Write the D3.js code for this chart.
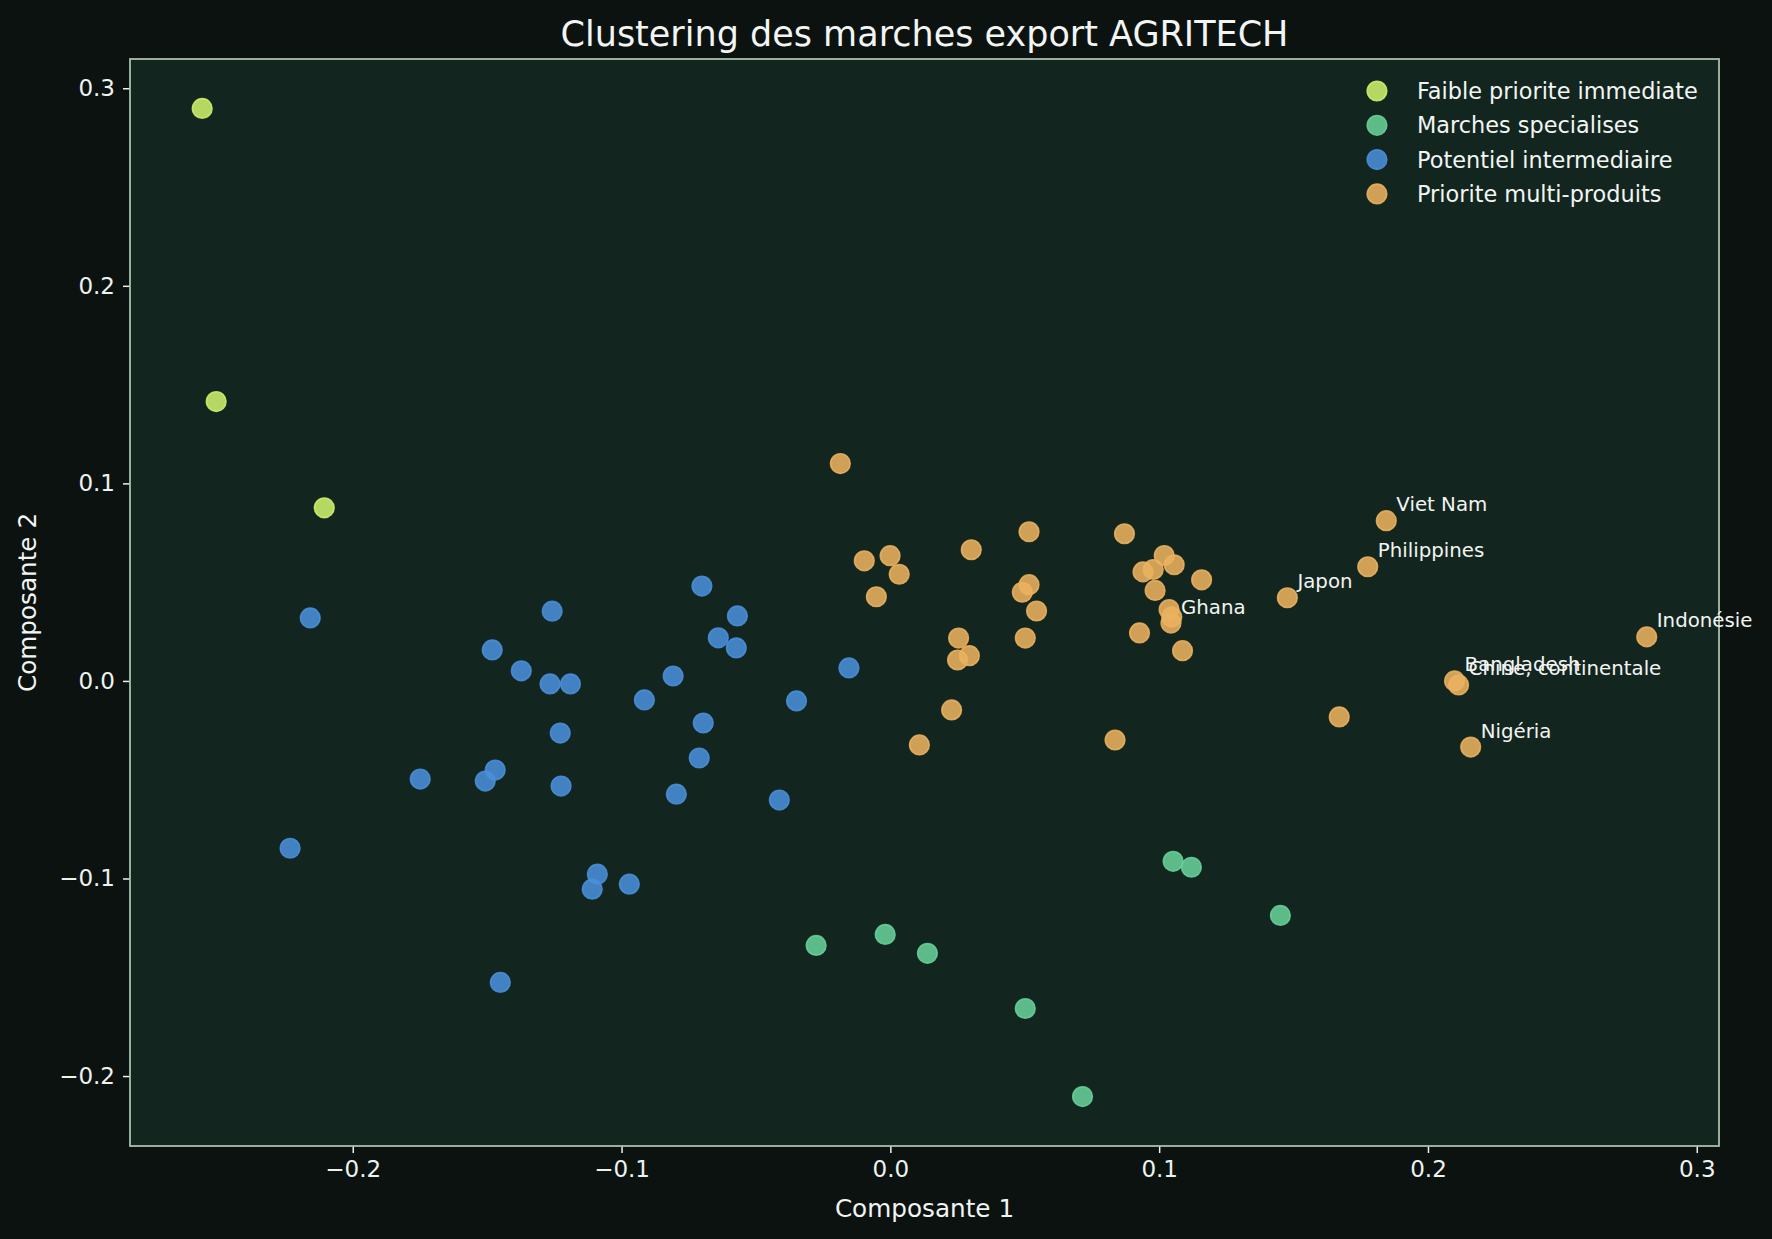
<!DOCTYPE html>
<html>
<head>
<meta charset="utf-8">
<script src="https://cdn.jsdelivr.net/npm/d3@7"></script>
<style>
  html, body { margin: 0; padding: 0; background: #0b120f; }
  svg { display: block; }
  text { font-family: "DejaVu Sans", sans-serif; }
</style>
</head>
<body>
<svg id="chart" width="1772" height="1239"></svg>
<script>
// ---- Data ----
const clusterNames = ["Faible priorite immediate", "Marches specialises", "Potentiel intermediaire", "Priorite multi-produits"];
const clusterColors = ["#cdf06c", "#68d098", "#4a90d9", "#eab260"];

const faibleX = [-0.2560, -0.2508, -0.2106];
const faibleY = [0.2898, 0.1414, 0.0876];

const specialX = [-0.0276, -0.0019, 0.0138, 0.0502, 0.0715, 0.1052, 0.1120, 0.1451];
const specialY = [-0.1339, -0.1283, -0.1379, -0.1658, -0.2104, -0.0913, -0.0943, -0.1187];

const interX = [-0.2158, -0.2233, -0.0701, -0.1258, -0.0569, -0.1481, -0.0640, -0.0573, -0.0154, -0.1373,
                -0.1266, -0.1190, -0.0808, -0.0915, -0.0349, -0.0696, -0.1228, -0.0711, -0.1749, -0.1470,
                -0.1507, -0.1225, -0.0796, -0.0413, -0.1090, -0.1109, -0.0971, -0.1451];
const interY = [0.0319, -0.0847, 0.0480, 0.0353, 0.0329, 0.0157, 0.0218, 0.0167, 0.0066, 0.0051,
                -0.0015, -0.0015, 0.0025, -0.0096, -0.0101, -0.0213, -0.0264, -0.0390, -0.0497, -0.0451,
                -0.0507, -0.0532, -0.0573, -0.0603, -0.0978, -0.1054, -0.1029, -0.1526];

const multiX = [-0.0186, -0.0097, -0.0001, 0.0033, -0.0052, 0.0301, 0.0516, 0.0516, 0.0491, 0.0544,
                0.0502, 0.0254, 0.0294, 0.0250, 0.0228, 0.0108, 0.0871, 0.0836, 0.1019, 0.1056,
                0.0978, 0.0940, 0.0985, 0.1158, 0.0927, 0.1037, 0.1047, 0.1044, 0.1087, 0.1477,
                0.1670, 0.1776, 0.1845, 0.2099, 0.2114, 0.2159, 0.2814];
const multiY = [0.1100, 0.0608, 0.0634, 0.0540, 0.0426, 0.0664, 0.0755, 0.0487, 0.0449, 0.0354,
                0.0217, 0.0217, 0.0128, 0.0106, -0.0147, -0.0324, 0.0745, -0.0299, 0.0635, 0.0588,
                0.0564, 0.0552, 0.0458, 0.0512, 0.0243, 0.0361, 0.0324, 0.0293, 0.0153, 0.0421,
                -0.0182, 0.0578, 0.0811, 0.0000, -0.0020, -0.0335, 0.0223];
const multiLabels = ["", "", "", "", "", "", "", "", "", "",
                     "", "", "", "", "", "", "", "", "", "",
                     "", "", "", "", "", "", "", "Ghana", "", "Japon",
                     "", "Philippines", "Viet Nam", "Bangladesh", "Chine, continentale", "Nigéria", "Indonésie"];

const xTicks = [-0.2, -0.1, 0.0, 0.1, 0.2, 0.3];
const yTicks = [-0.2, -0.1, 0.0, 0.1, 0.2, 0.3];

// ---- Build series ----
const seriesX = [faibleX, specialX, interX, multiX];
const seriesY = [faibleY, specialY, interY, multiY];
const series = clusterNames.map((name, i) => ({
  name, color: clusterColors[i],
  points: seriesX[i].map((x, j) => ({ x, y: seriesY[i][j], label: i === 3 ? multiLabels[j] : "" }))
}));
const allPts = series.flatMap(s => s.points);

// ---- Layout ----
const W = 1772, H = 1239;
const plot = { left: 130, right: 1719, top: 59, bottom: 1146 };
const svg = d3.select("#chart");
svg.append("rect").attr("width", W).attr("height", H).attr("fill", "#0b120f");

const pad = (lo, hi) => { const r = hi - lo; return [lo - 0.05 * r, hi + 0.05 * r]; };
const xExt = pad(d3.min(allPts, d => d.x), d3.max(allPts, d => d.x));
const yExt = pad(d3.min(allPts, d => d.y), d3.max(allPts, d => d.y));
const x = d3.scaleLinear().domain(xExt).range([plot.left, plot.right]);
const y = d3.scaleLinear().domain(yExt).range([plot.bottom, plot.top]);

// axes background
svg.append("rect")
  .attr("x", plot.left).attr("y", plot.top)
  .attr("width", plot.right - plot.left).attr("height", plot.bottom - plot.top)
  .attr("fill", "#12261f");

const fmt = d3.format(".1f");
const tickColor = "#eef2ef";

// X axis
const gx = svg.append("g").attr("transform", `translate(0,${plot.bottom})`)
  .call(d3.axisBottom(x).tickValues(xTicks).tickFormat(fmt).tickSize(7).tickPadding(8));
gx.select(".domain").remove();
gx.selectAll(".tick line").attr("stroke", tickColor).attr("stroke-width", 1.5);
gx.selectAll(".tick text").attr("fill", tickColor).attr("font-size", "23px")
  .attr("font-family", "DejaVu Sans");

// Y axis
const gy = svg.append("g").attr("transform", `translate(${plot.left},0)`)
  .call(d3.axisLeft(y).tickValues(yTicks).tickFormat(fmt).tickSize(7).tickPadding(8));
gy.select(".domain").remove();
gy.selectAll(".tick line").attr("stroke", tickColor).attr("stroke-width", 1.5);
gy.selectAll(".tick text").attr("fill", tickColor).attr("font-size", "23px")
  .attr("font-family", "DejaVu Sans");

// spines
svg.append("rect")
  .attr("x", plot.left).attr("y", plot.top)
  .attr("width", plot.right - plot.left).attr("height", plot.bottom - plot.top)
  .attr("fill", "none").attr("stroke", "#a5c1aa").attr("stroke-width", 1.8);

// points
const gp = svg.append("g");
series.forEach(s => {
  gp.selectAll(null).data(s.points).enter().append("circle")
    .attr("cx", d => x(d.x)).attr("cy", d => y(d.y)).attr("r", 9.8)
    .attr("fill", s.color).attr("fill-opacity", 0.88)
    .attr("stroke", s.color).attr("stroke-opacity", 0.88).attr("stroke-width", 1.6);
});

// labels
const labeled = series[3].points.filter(d => d.label);
svg.append("g").selectAll("text").data(labeled).enter().append("text")
  .attr("x", d => x(d.x) + 10).attr("y", d => y(d.y) - 9.5)
  .attr("fill", "#f2f4f2").attr("font-size", "19.8px")
  .text(d => d.label);

// title
svg.append("text").attr("x", (plot.left + plot.right) / 2).attr("y", 45.5)
  .attr("text-anchor", "middle").attr("fill", "#f2f5f3").attr("font-size", "35px")
  .text("Clustering des marches export AGRITECH");

// axis labels
svg.append("text").attr("x", (plot.left + plot.right) / 2).attr("y", 1216.5)
  .attr("text-anchor", "middle").attr("fill", "#f2f5f3").attr("font-size", "24.7px")
  .text("Composante 1");
svg.append("text")
  .attr("transform", `translate(36,${(plot.top + plot.bottom) / 2}) rotate(-90)`)
  .attr("text-anchor", "middle").attr("fill", "#f2f5f3").attr("font-size", "24.7px")
  .text("Composante 2");

// legend
const leg = svg.append("g");
series.forEach((s, i) => {
  const ly = 91 + i * 34.3;
  leg.append("circle").attr("cx", 1377).attr("cy", ly).attr("r", 9.8)
    .attr("fill", s.color).attr("fill-opacity", 0.88)
    .attr("stroke", s.color).attr("stroke-opacity", 0.88).attr("stroke-width", 1.6);
  leg.append("text").attr("x", 1417).attr("y", ly).attr("dy", "0.36em")
    .attr("fill", "#f2f5f3").attr("font-size", "22.4px").text(s.name);
});
</script>
</body>
</html>
